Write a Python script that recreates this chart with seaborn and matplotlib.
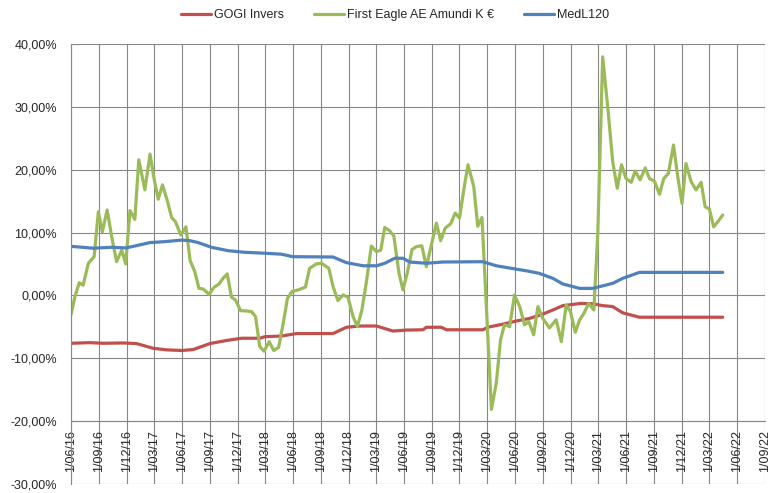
import numpy as np
import pandas as pd
import matplotlib
matplotlib.use("Agg")
import matplotlib.pyplot as plt
from matplotlib.lines import Line2D
from matplotlib.ticker import FuncFormatter
import seaborn as sns

# ---------------- data (values in %) ----------------
series_names = ["GOGI Invers", "First Eagle AE Amundi K €", "MedL120"]
series_colors = ["#C0504D", "#9BBB59", "#4F81BD"]

gogi_dates = ["2016-06-01", "2016-08-02", "2016-09-15", "2016-11-20", "2017-01-03", "2017-02-26",
              "2017-04-11", "2017-05-31", "2017-07-08", "2017-09-01", "2017-10-26", "2017-12-14",
              "2018-02-12", "2018-03-01", "2018-04-24", "2018-06-13", "2018-10-11", "2018-11-24",
              "2019-01-07", "2019-03-03", "2019-04-26", "2019-06-09", "2019-08-03", "2019-08-14",
              "2019-10-02", "2019-10-19", "2020-02-16", "2020-03-03", "2020-04-22", "2020-06-05",
              "2020-07-18", "2020-08-31", "2020-10-03", "2020-11-05", "2021-01-04", "2021-02-11",
              "2021-03-16", "2021-04-18", "2021-05-21", "2021-07-15", "2022-04-15"]
gogi_values = [-7.65, -7.55, -7.65, -7.6, -7.7, -8.45,
               -8.7, -8.8, -8.65, -7.7, -7.2, -6.85,
               -6.85, -6.6, -6.5, -6.1, -6.1, -5.1,
               -4.9, -4.9, -5.7, -5.55, -5.5, -5.1,
               -5.1, -5.5, -5.5, -5.1, -4.6, -4.1,
               -3.7, -3.0, -2.35, -1.65, -1.3, -1.35,
               -1.65, -1.8, -2.8, -3.5, -3.5]

fe_dates = ["2016-06-01", "2016-06-14", "2016-06-28", "2016-07-11", "2016-07-28", "2016-08-16", "2016-08-30",
            "2016-09-12", "2016-09-28", "2016-10-13", "2016-10-29", "2016-11-15", "2016-11-28", "2016-12-12",
            "2016-12-28",
            "2017-01-10", "2017-01-30", "2017-02-16", "2017-03-02", "2017-03-15", "2017-03-29", "2017-04-13",
            "2017-04-28", "2017-05-11", "2017-05-28", "2017-06-14", "2017-06-28", "2017-07-13", "2017-07-27",
            "2017-08-10", "2017-08-29", "2017-09-15", "2017-10-01", "2017-10-14", "2017-10-28", "2017-11-11",
            "2017-11-24", "2017-12-11", "2017-12-30",
            "2018-01-16", "2018-01-29", "2018-02-12", "2018-02-26", "2018-03-15", "2018-03-30", "2018-04-15",
            "2018-04-30", "2018-05-14", "2018-05-29", "2018-06-18", "2018-07-12", "2018-07-26", "2018-08-17",
            "2018-09-03", "2018-09-27", "2018-10-11", "2018-10-27", "2018-11-13", "2018-11-29", "2018-12-16",
            "2018-12-30",
            "2019-01-14", "2019-01-29", "2019-02-14", "2019-03-03", "2019-03-17", "2019-03-30", "2019-04-15",
            "2019-04-29", "2019-05-16", "2019-05-29", "2019-06-12", "2019-06-28", "2019-07-12", "2019-07-30",
            "2019-08-14", "2019-09-16", "2019-09-30", "2019-10-15", "2019-11-02", "2019-11-17", "2019-12-01",
            "2019-12-15", "2019-12-29",
            "2020-01-17", "2020-01-30", "2020-02-13", "2020-03-15", "2020-03-31", "2020-04-14", "2020-04-27",
            "2020-05-14", "2020-05-30", "2020-06-16", "2020-07-02", "2020-07-16", "2020-08-01", "2020-08-15",
            "2020-08-31", "2020-09-22", "2020-10-14", "2020-10-31", "2020-11-16", "2020-11-30", "2020-12-16",
            "2020-12-30",
            "2021-01-13", "2021-01-29", "2021-02-15", "2021-02-28", "2021-03-16", "2021-04-02", "2021-04-18",
            "2021-05-03", "2021-05-17", "2021-06-01", "2021-06-18", "2021-07-01", "2021-07-17", "2021-08-03",
            "2021-08-17", "2021-09-02", "2021-09-19", "2021-10-03", "2021-10-18", "2021-11-04", "2021-11-18",
            "2021-12-02", "2021-12-15",
            "2022-01-01", "2022-01-17", "2022-02-03", "2022-02-16", "2022-03-02", "2022-03-16", "2022-03-31",
            "2022-04-15"]
fe_values = [-3.1, -0.2, 2.0, 1.6, 5.1, 6.15, 13.3, 10.1, 13.6, 9.3, 5.35, 7.2, 5.0, 13.5, 12.1,
             21.6, 16.8, 22.5, 18.4, 15.3, 17.6, 15.2, 12.4, 11.7, 9.6, 10.9, 5.5, 3.8, 1.1, 1.0, 0.15,
             1.3, 1.8, 2.7, 3.4, -0.3, -0.75, -2.45, -2.5,
             -2.6, -3.4, -8.2, -8.9, -7.4, -8.8, -8.3, -4.5, -0.5, 0.6, 0.85, 1.3, 4.3, 5.0, 5.1, 4.3,
             1.4, -0.85, 0.05, -0.3, -3.4, -5.0,
             -2.35, 2.2, 7.85, 6.95, 7.2, 10.8, 10.3, 9.45, 3.5, 0.85, 3.5, 7.3, 7.75, 7.9, 4.55, 11.5,
             8.7, 10.7, 11.4, 13.1, 12.3, 16.8, 20.8,
             17.3, 11.0, 12.4, -18.2, -14.0, -7.1, -4.7, -5.0, 0.05, -1.8, -4.7, -4.2, -6.3, -1.8,
             -3.7, -5.2, -3.9, -7.4, -1.55, -2.6, -5.9, -3.95,
             -2.9, -1.3, -2.35, 10.0, 38.0, 29.8, 21.3, 17.05, 20.8, 18.6, 18.0, 19.8, 18.4, 20.3,
             18.6, 18.2, 16.1, 18.6, 19.4, 23.95, 18.9, 14.65, 21.0,
             18.1, 16.8, 18.0, 14.1, 13.75, 10.9, 11.8, 12.8]

med_dates = ["2016-06-01", "2016-08-13", "2016-10-13", "2016-11-28", "2016-12-28", "2017-02-16",
             "2017-04-06", "2017-05-31", "2017-06-27", "2017-07-24", "2017-09-06", "2017-10-31",
             "2017-12-25", "2018-03-01", "2018-04-24", "2018-06-01", "2018-10-11", "2018-11-24",
             "2019-01-18", "2019-03-03", "2019-03-30", "2019-05-02", "2019-05-29", "2019-06-20",
             "2019-08-14", "2019-10-07", "2020-02-16", "2020-03-31", "2020-05-25", "2020-07-08",
             "2020-08-19", "2020-10-03", "2020-11-05", "2020-12-30", "2021-02-11", "2021-04-18",
             "2021-05-21", "2021-07-15", "2022-04-15"]
med_values = [7.8, 7.5, 7.65, 7.55, 7.85, 8.4,
              8.55, 8.8, 8.7, 8.4, 7.65, 7.1,
              6.85, 6.7, 6.55, 6.15, 6.1, 5.2,
              4.7, 4.7, 5.1, 5.9, 5.9, 5.3,
              5.1, 5.3, 5.35, 4.7, 4.25, 3.9,
              3.5, 2.7, 1.8, 1.1, 1.1, 1.9,
              2.7, 3.65, 3.65]

tick_labels = ["1/06/16", "1/09/16", "1/12/16", "1/03/17", "1/06/17", "1/09/17", "1/12/17",
               "1/03/18", "1/06/18", "1/09/18", "1/12/18", "1/03/19", "1/06/19", "1/09/19",
               "1/12/19", "1/03/20", "1/06/20", "1/09/20", "1/12/20", "1/03/21", "1/06/21",
               "1/09/21", "1/12/21", "1/03/22", "1/06/22", "1/09/22"]
y_ticks = [-30, -20, -10, 0, 10, 20, 30, 40]

# ---------------- build table ----------------
frames = []
for name, d, v in zip(series_names, [gogi_dates, fe_dates, med_dates],
                      [gogi_values, fe_values, med_values]):
    frames.append(pd.DataFrame({"date": pd.to_datetime(d), "value": v, "series": name}))
df = pd.concat(frames, ignore_index=True)

# ---------------- style ----------------
sns.set_style("white")
plt.rcParams["font.family"] = ["Liberation Sans", "DejaVu Sans"]
text_color = "#262626"
grid_color = "#878787"

fig = plt.figure(figsize=(7.8, 4.93), dpi=100)
W, H = 780, 493
ax = fig.add_axes([71 / W, (H - 483.5) / H, (765 - 71) / W, (483.5 - 44.3) / H])

sns.lineplot(data=df, x="date", y="value", hue="series", hue_order=series_names,
             palette=series_colors, estimator=None, sort=False, linewidth=2.3,
             legend=False, ax=ax)
for ln in ax.get_lines():
    ln.set_solid_joinstyle("round")
    ln.set_solid_capstyle("round")

# spines first (repositioning a spine resets the ticks)
for s in ["top", "right"]:
    ax.spines[s].set_visible(False)
ax.spines["left"].set_color(grid_color)
ax.spines["left"].set_linewidth(0.8)
ax.spines["bottom"].set_color(grid_color)
ax.spines["bottom"].set_linewidth(0.8)
ax.spines["bottom"].set_position(("data", -20))

tick_dates = pd.to_datetime(tick_labels, format="%d/%m/%y")
ax.set_xlim(tick_dates[0], tick_dates[-1])
ax.set_ylim(-30, 40)
ax.set_xticks(tick_dates)
ax.set_xticklabels(tick_labels)
ax.set_yticks(y_ticks)
ax.yaxis.set_major_formatter(FuncFormatter(lambda v, p: f"{v:.2f}%".replace(".", ",")))
ax.set_xlabel("")
ax.set_ylabel("")

ax.grid(True, color=grid_color, linewidth=0.8)
ax.set_axisbelow(True)

ax.tick_params(axis="both", direction="out", length=4, width=0.8, color=grid_color,
               labelsize=9, labelcolor=text_color)
ax.tick_params(axis="y", pad=6)
ax.tick_params(axis="x", labelrotation=90, pad=3)

handles = [Line2D([0], [0], color=c, lw=2.3) for c in series_colors]
fig.legend(handles, series_names, loc="center", bbox_to_anchor=(395 / W, 1 - 15 / H),
           ncol=3, frameon=False, fontsize=9, handlelength=2.4, handletextpad=0.25,
           columnspacing=2.4, labelcolor=text_color)

fig.savefig("out.png", dpi=100)
